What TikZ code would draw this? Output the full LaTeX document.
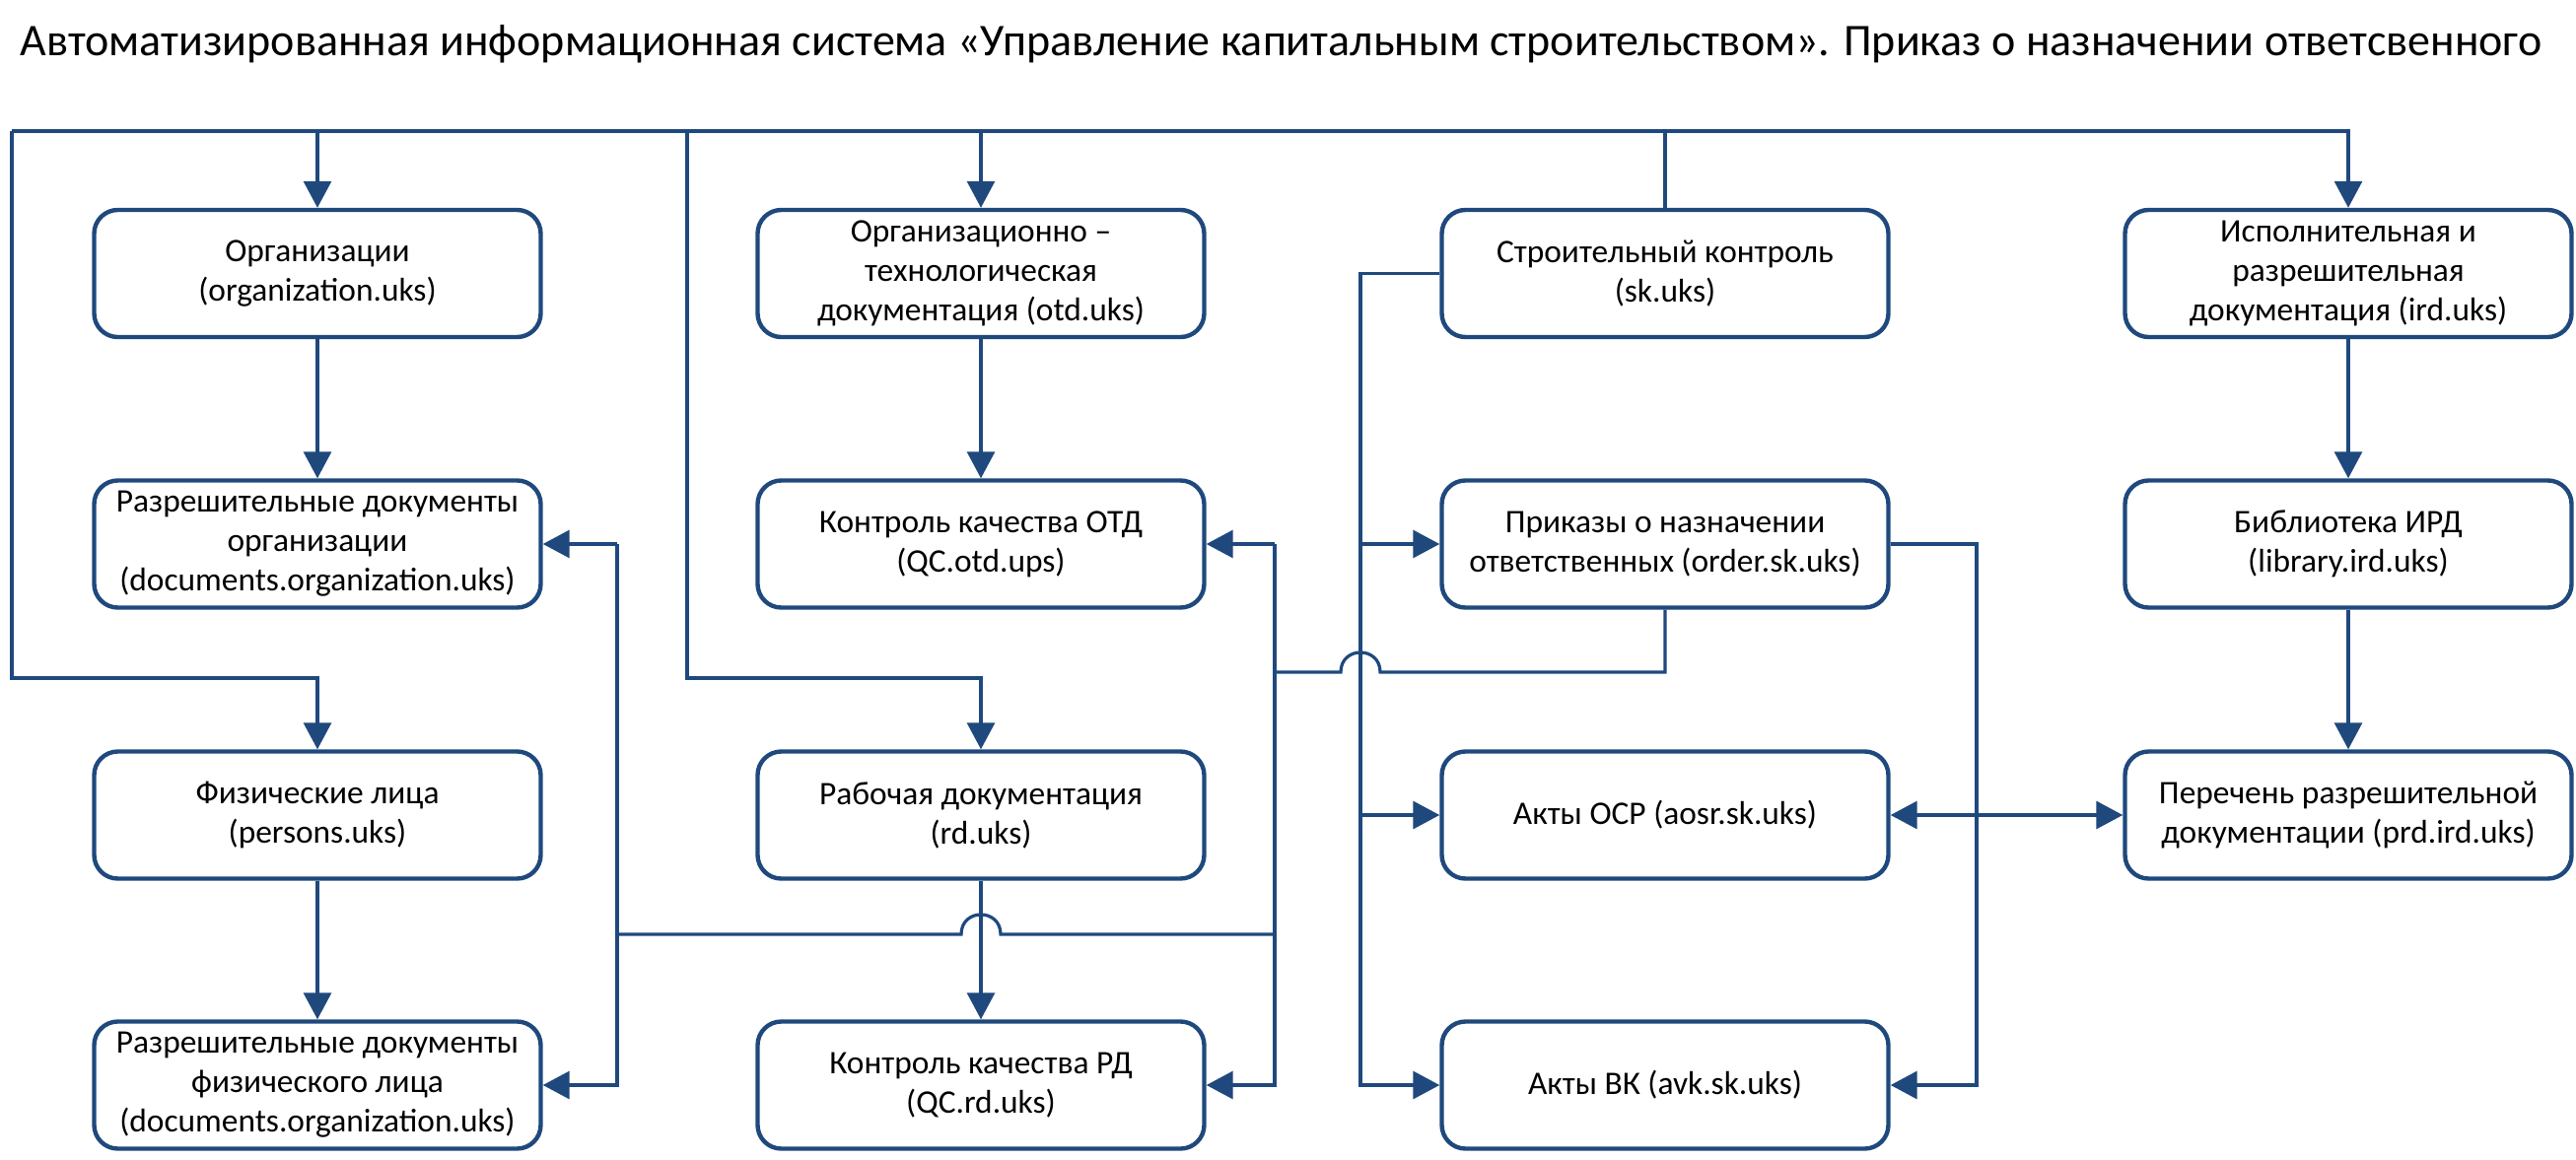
\documentclass[tikz,border=0pt]{standalone}
\usepackage{fontspec}
\setmainfont{Carlito}
\usetikzlibrary{arrows.meta}
\definecolor{lb}{RGB}{31,73,125}
\begin{document}
\begin{tikzpicture}[x=0.5pt,y=-0.5pt,
  box/.style={draw=lb, line width=2.2pt, rounded corners=12pt, minimum width=226.5pt, minimum height=64.5pt, align=center, font=\fontsize{16.7}{20}\selectfont, inner sep=0pt},
  conn/.style={draw=lb, line width=1.6pt},
  tip/.style={-{Triangle[length=13.5pt,width=14pt]}},
  arr/.style={conn, tip},
  dbl/.style={conn, {Triangle[length=13.5pt,width=14pt]}-{Triangle[length=13.5pt,width=14pt]}},
]
\useasboundingbox (0,0) rectangle (2613,1177);

\node[anchor=west, font=\fontsize{23}{27}\selectfont, inner sep=0pt] (title) at (20,45) {Автоматизированная информационная система «Управление капитальным строительством». Приказ о назначении ответсвенного};

\node[box] (org) at (322,277.5) {Организации\\(organization.uks)};
\node[box] (dorg) at (322,552) {Разрешительные документы\\организации\\(documents.organization.uks)};
\node[box] (pers) at (322,827) {Физические лица\\(persons.uks)};
\node[box] (dphys) at (322,1101) {Разрешительные документы\\физического лица\\(documents.organization.uks)};
\node[box] (otd) at (995,277.5) {Организационно –\\технологическая\\документация (otd.uks)};
\node[box] (qcotd) at (995,552) {Контроль качества ОТД\\(QC.otd.ups)};
\node[box] (rd) at (995,827) {Рабочая документация\\(rd.uks)};
\node[box] (qcrd) at (995,1101) {Контроль качества РД\\(QC.rd.uks)};
\node[box] (sk) at (1689,277.5) {Строительный контроль\\(sk.uks)};
\node[box] (order) at (1689,552) {Приказы о назначении\\ответственных (order.sk.uks)};
\node[box] (aosr) at (1689,827) {Акты ОСР (aosr.sk.uks)};
\node[box] (avk) at (1689,1101) {Акты ВК (avk.sk.uks)};
\node[box] (ird) at (2382,277.5) {Исполнительная и\\разрешительная\\документация (ird.uks)};
\node[box] (lib) at (2382,552) {Библиотека ИРД\\(library.ird.uks)};
\node[box] (prd) at (2382,827) {Перечень разрешительной\\документации (prd.ird.uks)};

% named coordinates
\coordinate (busL) at (12,133);
\coordinate (busR) at (2382,133);
\coordinate (busM) at (697,133);
\coordinate (lowL) at (12,688);
\coordinate (lowM) at (697,688);
\coordinate (vx) at (1380,0);
\coordinate (ox) at (1293,0);
\coordinate (dx) at (626,0);
\coordinate (rx) at (2005,0);
\coordinate (ob) at (1689,682);
\coordinate (hb) at (1293,948);

% top bus from sk
\draw[conn] (sk.north) |- (busL);
\draw[arr] (sk.north) |- (busR) -- (ird.north);
\draw[arr] (busL) -- (lowL) -| (pers.north);
\draw[arr] (org.north |- busL) -- (org.north);
\draw[arr] (otd.north |- busL) -- (otd.north);
\draw[arr] (busM) -- (lowM) -| (rd.north);

% vertical arrows
\draw[arr] (org.south) -- (dorg.north);
\draw[arr] (pers.south) -- (dphys.north);
\draw[arr] (otd.south) -- (qcotd.north);
\draw[arr] (rd.south) -- (qcrd.north);
\draw[arr] (ird.south) -- (lib.north);
\draw[arr] (lib.south) -- (prd.north);

% sk left bus
\draw[arr] (sk.west) -| (vx |- avk.west) -- (avk.west);
\draw[arr] (vx |- order.west) -- (order.west);
\draw[arr] (vx |- aosr.west) -- (aosr.west);

% order bottom
\draw[conn] (order.south) -- (ob) -- (1400,682) .. controls (1400,655.3) and (1360,655.3) .. (1360,682) -- (ox |- ob);
\draw[arr] (ox |- qcotd.east) -- (qcotd.east);
\draw[arr] (ox |- qcotd.east) -- (ox |- qcrd.east) -- (qcrd.east);
\draw[conn] (hb) -- (1015,948) .. controls (1015,921.3) and (975,921.3) .. (975,948) -- (dx |- hb);
\draw[arr] (dx |- dorg.east) -- (dorg.east);
\draw[arr] (dx |- dorg.east) -- (dx |- dphys.east) -- (dphys.east);

% order right
\draw[arr] (order.east) -| (rx |- avk.east) -- (avk.east);

% aosr <-> prd
\draw[dbl] (aosr.east) -- (prd.west);
\end{tikzpicture}
\end{document}
